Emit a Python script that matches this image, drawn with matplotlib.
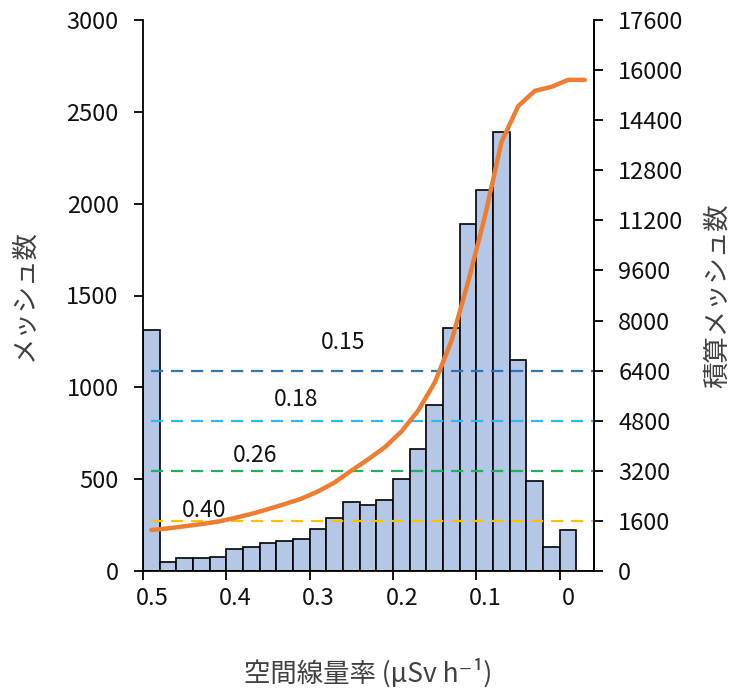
import numpy as np
import matplotlib
matplotlib.use("Agg")
import matplotlib.pyplot as plt
from matplotlib.transforms import ScaledTranslation

plt.rcParams['font.family'] = ['Noto Sans CJK JP', 'DejaVu Sans']

# --- データ ---
# 各ビンの上端 (µSv/h)、幅 0.02。最後の区間は空
bin_upper = [0.50, 0.48, 0.46, 0.44, 0.42, 0.40, 0.38, 0.36, 0.34, 0.32,
             0.30, 0.28, 0.26, 0.24, 0.22, 0.20, 0.18, 0.16, 0.14, 0.12,
             0.10, 0.08, 0.06, 0.04, 0.02, 0.00, -0.02]
counts = [1310, 51, 69, 69, 78, 118, 129, 151, 162, 174,
          230, 290, 376, 359, 385, 503, 666, 902, 1323, 1888,
          2076, 2390, 1147, 490, 129, 223, 0]
ref_levels = [6400, 4800, 3200, 1600]
ref_labels = ["0.15", "0.18", "0.26", "0.40"]
ref_colors = ["#2E75B6", "#2DB8F0", "#1FB257", "#FFC000"]
x_ticks = [0.5, 0.4, 0.3, 0.2, 0.1, 0.0]
x_ticklabels = ["0.5", "0.4", "0.3", "0.2", "0.1", "0"]
left_ticks = [0, 500, 1000, 1500, 2000, 2500, 3000]
right_ticks = [0, 1600, 3200, 4800, 6400, 8000, 9600, 11200, 12800, 14400, 16000, 17600]

BIN_W = 0.02
centers = np.array(bin_upper) - BIN_W / 2
cumulative = np.cumsum(counts)

TICK_C = '#111111'
LABEL_C = '#404040'
FS = 17
LFS = 19

fig = plt.figure(figsize=(7.34, 6.95), dpi=100)
ax = fig.add_axes([143/734, 124/695, 451/734, 551/695])
ax2 = ax.twinx()

# ヒストグラム
ax.bar(centers, counts, width=BIN_W, color='#B4C7E7', edgecolor='black',
       linewidth=1.2, zorder=2)
ax.set_xlim(0.5, -0.041)
ax.set_ylim(0, 3000)
ax.set_yticks(left_ticks)
ax.set_xticks(x_ticks)
ax.set_xticklabels(x_ticklabels)

# 基準線とラベル
for lvl, col in zip(ref_levels, ref_colors):
    ax2.hlines(lvl, 0.49, -0.041, colors=col, linestyles=(0, (5.5, 3.5)),
               linewidth=1.6, zorder=2)
label_pos = [(0.260, 7283), (0.316, 5494), (0.366, 3705), (0.427, 1917)]
for (tx, ty), txt in zip(label_pos, ref_labels):
    ax2.text(tx, ty, txt, ha='center', va='center', fontsize=FS - 0.5,
             color=TICK_C, zorder=4)

# 積算曲線
ax2.plot(centers, cumulative, color='#ED7D31', linewidth=3.2, zorder=3,
         solid_capstyle='round', solid_joinstyle='round')
ax2.set_ylim(0, 17600)
ax2.set_yticks(right_ticks)

for a in (ax, ax2):
    a.spines['top'].set_visible(False)
    for s in a.spines.values():
        s.set_linewidth(1.3)
ax2.spines['left'].set_visible(False)
ax2.spines['bottom'].set_visible(False)

ax.tick_params(axis='y', direction='out', length=6.5, width=1.3, pad=11,
               labelsize=FS, labelcolor=TICK_C)
ax.tick_params(axis='x', direction='out', length=6.5, width=1.3, pad=5,
               labelsize=FS, labelcolor=TICK_C)
ax2.tick_params(axis='y', direction='out', length=6.5, width=1.3, pad=11,
                labelsize=FS, labelcolor=TICK_C)

# x 目盛ラベルを少し右へ
shift = ScaledTranslation(9/100, 0, fig.dpi_scale_trans)
for lab in ax.get_xticklabels():
    lab.set_transform(lab.get_transform() + shift)

ax.set_xlabel("空間線量率 (µSv h⁻¹)", fontsize=LFS, color=LABEL_C, va='center')
ax.xaxis.set_label_coords(0.5, -0.186)
ax.set_ylabel("メッシュ数", fontsize=LFS, color=LABEL_C, va='center', ha='center')
ax.yaxis.set_label_coords(-0.263, 0.5)
ax2.set_ylabel("積算メッシュ数", fontsize=LFS, color=LABEL_C, va='center',
               ha='center', rotation=90)
ax2.yaxis.set_label_coords(1.275, 0.5)

fig.savefig("out.png", dpi=100)
